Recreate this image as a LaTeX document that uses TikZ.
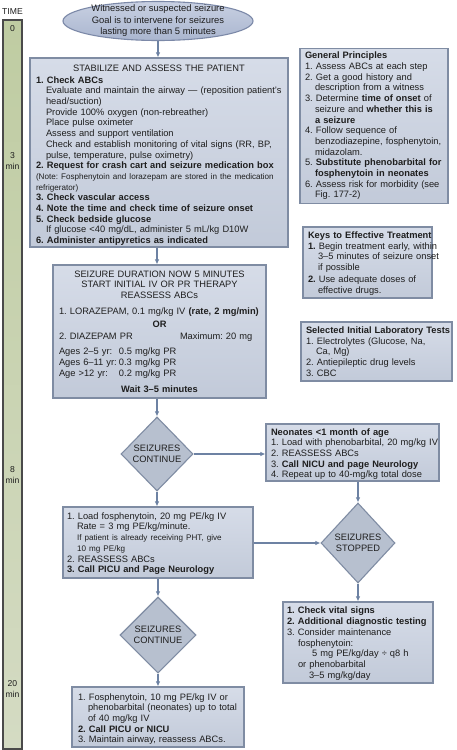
\documentclass[tikz,border=0pt]{standalone}
\usepackage{fontspec}
\setmainfont{Liberation Sans}
\usetikzlibrary{shapes.geometric,arrows.meta}
\definecolor{boxtop}{HTML}{D6DCE8}
\definecolor{boxbot}{HTML}{C2CAD9}
\definecolor{boxline}{HTML}{7F8CA3}
\definecolor{diafill}{HTML}{B7C0CF}
\definecolor{elltop}{HTML}{C8D0E2}
\definecolor{ellbot}{HTML}{AAB6CF}
\definecolor{ellline}{HTML}{7C89A8}
\definecolor{arrowc}{HTML}{6D82A3}
\definecolor{txt}{HTML}{1E1E1E}
\definecolor{timetop}{HTML}{BFCCA2}
\definecolor{timemid}{HTML}{E7EBDE}
\definecolor{timebot}{HTML}{D4DBC3}
\definecolor{timeline}{HTML}{4A4A4A}
\newcommand{\fsn}{\fontsize{9.3}{10.7}\selectfont}
\newcommand{\fss}{\fontsize{8.1}{9.6}\selectfont}
\newcommand{\ind}{\hspace*{10pt}}
\newcommand{\ctr}[1]{\makebox[\linewidth][c]{#1}}
\newcommand{\tp}[1]{\rule{0pt}{#1}}
\newcommand{\nb}{\frenchspacing\rightskip=0pt plus 1fil minus 80pt\relax}
\tikzset{
  box/.style={rectangle, draw=boxline, line width=1.1pt, top color=boxtop, bottom color=boxbot, inner sep=0pt, font=\fsn, text=txt, align=left},
  dec/.style={diamond, draw=boxline, line width=1.1pt, fill=diafill, inner sep=0pt, font=\fsn, text=txt, align=center},
  arr/.style={draw=arrowc, line width=1.2pt, -{Latex[length=5pt,width=4.5pt]}},
  timelbl/.style={font=\fontsize{8.6}{10.5}\selectfont, text=txt, align=center, inner sep=0pt},
}
\begin{document}
\begin{tikzpicture}[x=1pt,y=-1pt]
\useasboundingbox (0,0) rectangle (456,750);
\fill[white] (0,0) rectangle (456,750);

% time bar
\node[rectangle, draw=timeline, line width=1.3pt, top color=timetop, middle color=timemid, bottom color=timebot, minimum width=19pt, minimum height=729pt, inner sep=0pt] (timebar) at (12.5,384.5) {};
\node[timelbl] (ttime) at (12.5,12) {TIME};
\node[timelbl] (t0) at (12.5,29) {0};
\node[timelbl] (t3) at (12.5,161) {3\\min};
\node[timelbl] (t8) at (12.5,475) {8\\min};
\node[timelbl] (t20) at (12.5,689) {20\\min};

% start ellipse
\node[ellipse, draw=ellline, line width=1.1pt, top color=elltop, bottom color=ellbot, minimum width=190pt, minimum height=39pt, inner xsep=0pt, inner ysep=-2.5pt, font=\fontsize{9.4}{11.5}\selectfont, text=txt, align=center] (start) at (158,21) {Witnessed or suspected seizure\\Goal is to intervene for seizures\\lasting more than 5 minutes};

% stabilize box
\node[box, minimum width=258pt, minimum height=189pt, text width=246pt] (stab) at (159,152.5) {\nb
\tp{12pt}\ctr{STABILIZE AND ASSESS THE PATIENT}\\[1pt]
\textbf{1. Check ABCs}\\
\ind Evaluate and maintain the airway — (reposition patient's\\
\ind head/suction)\\
\ind Provide 100\% oxygen (non-rebreather)\\
\ind Place pulse oximeter\\
\ind Assess and support ventilation\\
\ind Check and establish monitoring of vital signs (RR, BP,\\
\ind pulse, temperature, pulse oximetry)\\
\textbf{2. Request for crash cart and seizure medication box}\\
{\fss (Note: Fosphenytoin and lorazepam are stored in the medication}\\
{\fss refrigerator)}\\
\textbf{3. Check vascular access}\\
\textbf{4. Note the time and check time of seizure onset}\\
\textbf{5. Check bedside glucose}\\
\ind If glucose <40 mg/dL, administer 5 mL/kg D10W\\
\textbf{6. Administer antipyretics as indicated}};

% duration box
\node[box, minimum width=213pt, minimum height=133pt, text width=201pt] (dur) at (159.5,331.5) {\nb
\ctr{SEIZURE DURATION NOW 5 MINUTES}\\
\ctr{START INITIAL IV OR PR THERAPY}\\
\ctr{REASSESS ABCs}\\[5pt]
1. LORAZEPAM, 0.1 mg/kg IV \textbf{(rate, 2 mg/min)}\\[2.5pt]
\ctr{\textbf{OR}}\\[1.5pt]
\makebox[121pt][l]{2. DIAZEPAM PR}Maximum: 20 mg\\[4.5pt]
\makebox[60pt][l]{Ages 2–5 yr:}0.5 mg/kg PR\\
\makebox[60pt][l]{Ages 6–11 yr:}0.3 mg/kg PR\\
\makebox[60pt][l]{Age >12 yr:}0.2 mg/kg PR\\[5.5pt]
\ctr{\textbf{Wait 3–5 minutes}}};

% decision 1
\node[dec, minimum width=72pt, minimum height=74pt] (d1) at (157,454) {SEIZURES\\CONTINUE};

% neonates box
\node[box, minimum width=173pt, minimum height=57pt, text width=163pt] (neo) at (352.5,452.5) {\nb
\tp{10pt}\textbf{Neonates <1 month of age}\\
1. Load with phenobarbital, 20 mg/kg IV\\
2. REASSESS ABCs\\
3. \textbf{Call NICU and page Neurology}\\
4. Repeat up to 40-mg/kg total dose};

% fosphenytoin box
\node[box, minimum width=190pt, minimum height=71pt, text width=182pt] (fos) at (158,542.5) {\nb
\tp{9pt}1. Load fosphenytoin, 20 mg PE/kg IV\\
\ind Rate = 3 mg PE/kg/minute.\\
{\fss\ind If patient is already receiving PHT, give}\\
{\fss\ind 10 mg PE/kg}\\
2. REASSESS ABCs\\
\textbf{3. Call PICU and Page Neurology}};

% decision 2
\node[dec, minimum width=74pt, minimum height=80pt] (d2) at (358,543) {SEIZURES\\STOPPED};

% vital signs box
\node[box, minimum width=150pt, minimum height=81pt, text width=142pt] (vit) at (358,642.5) {\nb
\tp{9pt}\textbf{1. Check vital signs}\\
\textbf{2. Additional diagnostic testing}\\
3. Consider maintenance\\
\hspace*{11pt}fosphenytoin:\\
\hspace*{25pt}5 mg PE/kg/day ÷ q8 h\\
\hspace*{11pt}or phenobarbital\\
\hspace*{22pt}3–5 mg/kg/day};

% decision 3
\node[dec, minimum width=76pt, minimum height=76pt] (d3) at (158,635) {SEIZURES\\CONTINUE};

% final box
\node[box, minimum width=172pt, minimum height=60pt, text width=160pt] (fin) at (158,717) {\nb
\tp{11pt}1. Fosphenytoin, 10 mg PE/kg IV or\\
\ind phenobarbital (neonates) up to total\\
\ind of 40 mg/kg IV\\
\textbf{2. Call PICU or NICU}\\
3. Maintain airway, reassess ABCs.};

% general principles
\node[box, minimum width=148pt, minimum height=155pt, text width=138pt] (gen) at (374,126) {\nb
\textbf{General Principles}\\
1. Assess ABCs at each step\\
2. Get a good history and\\
\ind description from a witness\\
3. Determine \textbf{time of onset} of\\
\ind seizure and \textbf{whether this is}\\
\ind \textbf{a seizure}\\
4. Follow sequence of\\
\ind benzodiazepine, fosphenytoin,\\
\ind midazolam.\\
5. \textbf{Substitute phenobarbital for}\\
\ind \textbf{fosphenytoin in neonates}\\
6. Assess risk for morbidity (see\\
\ind Fig. 177-2)};

% keys
\node[box, minimum width=129pt, minimum height=71pt, text width=119pt] (keys) at (367.5,262.5) {\nb
\tp{9pt}\textbf{Keys to Effective Treatment}\\
\textbf{1.} Begin treatment early, within\\
\ind 3–5 minutes of seizure onset\\
\ind if possible\\[1.5pt]
\textbf{2.} Use adequate doses of\\
\ind effective drugs.};

% lab tests
\node[box, minimum width=151pt, minimum height=59pt, text width=141pt] (lab) at (376.5,351.5) {\nb
\textbf{Selected Initial Laboratory Tests}\\
1. Electrolytes (Glucose, Na,\\
\ind Ca, Mg)\\
2. Antiepileptic drug levels\\
3. CBC};

% connectors
\draw[arr] (start.south) -- (stab.north -| start.south);
\draw[arr] (stab.south -| d1) -- (dur.north -| d1);
\draw[arr] (dur.south -| d1) -- (d1.north);
\draw[arr] (d1.east) -- (d1.east -| neo.west);
\draw[arr] (neo.south -| d2) -- (d2.north);
\draw[arr] (d1.south) -- (fos.north -| d1);
\draw[arr] (fos.east |- d2) -- (d2.west);
\draw[arr] (d2.south) -- (vit.north -| d2);
\draw[arr] (fos.south -| d3) -- (d3.north);
\draw[arr] (d3.south) -- (fin.north -| d3);
\end{tikzpicture}
\end{document}
